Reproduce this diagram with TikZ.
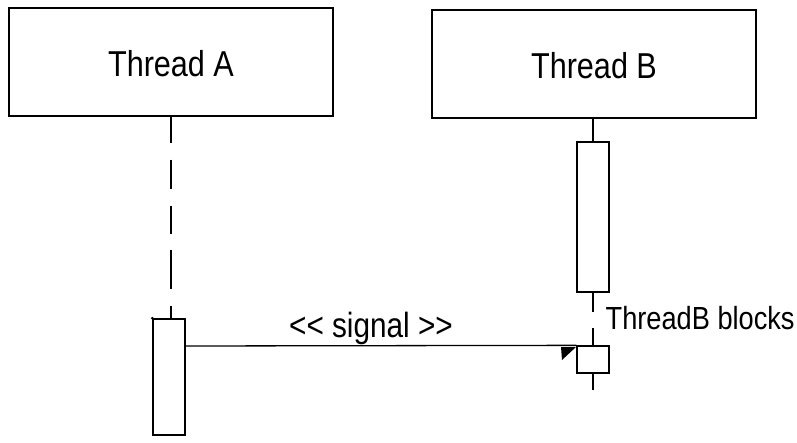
\documentclass[tikz,border=0pt]{standalone}
\usepackage{fontspec}
\setmainfont[FakeStretch=0.85]{Liberation Sans}
\begin{document}
\begin{tikzpicture}[x=1pt,y=-1pt,
  line width=1.3pt,
  thread/.style={draw, rectangle, minimum width=324pt, minimum height=108pt, inner sep=0pt},
  activation/.style={draw, fill=white, rectangle, minimum width=32pt, inner sep=0pt},
  label/.style={inner sep=0pt, anchor=base}]
\useasboundingbox (0,0) rectangle (797,443);

% participant heads
\node[thread] (headA) at (171,62) {};
\node[thread] (headB) at (594,64) {};
\node[label, font=\fontsize{36}{40}\selectfont] (nameA) at (171,77) {Thread A};
\node[label, font=\fontsize{36}{40}\selectfont] (nameB) at (594,79) {Thread B};

% activation bars
\node[activation, minimum height=116pt] (actA) at (169,377) {};
\node[activation, minimum height=150pt] (actB1) at (593,217) {};
\node[activation, minimum height=27pt] (actB2) at (593,359.5) {};

% lifeline of thread A (dashed)
\coordinate (lifeA) at (171,319);
\draw[dash pattern=on 26pt off 17pt on 29pt off 17pt on 28pt off 16pt on 39pt off 17pt on 20pt]
  (headA.south -| lifeA) -- (lifeA);
\fill (actA.north west) circle (1.5pt);

% lifeline of thread B
\coordinate (gapTop) at (593,312);
\coordinate (gapBot) at (593,328);
\coordinate (endB) at (593,390);
\draw (headB.south -| actB1.north) -- (actB1.north);
\draw (actB1.south) -- (gapTop);
\draw (gapBot) -- (actB2.north);
\draw (actB2.south) -- (endB);

% signal message
\coordinate (msgStart) at (185,346);
\draw (msgStart) -- (actB2.north west);
\coordinate (tipA) at (561,347);
\coordinate (tipB) at (576,347);
\coordinate (tipC) at (562,360);
\fill (tipA) -- (tipB) -- (tipC) -- cycle;

\node[label, font=\fontsize{35}{38}\selectfont] (sig) at (371,337) {<{}< signal >{}>};
\node[label, anchor=base west, font=\fontsize{32}{35}\selectfont] (blocks) at (605,330) {ThreadB blocks};
\end{tikzpicture}
\end{document}
